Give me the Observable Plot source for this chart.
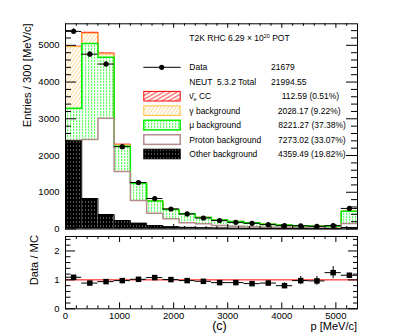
<!DOCTYPE html>
<html><head><meta charset="utf-8">
<script src="https://cdn.jsdelivr.net/npm/d3@7"></script>
<script src="https://cdn.jsdelivr.net/npm/@observablehq/plot@0.6"></script>
<style>
html,body{margin:0;padding:0;background:#fff;}
#chart{position:relative;width:411px;height:336px;overflow:hidden;}
#chart svg{display:block;}
</style></head><body><div id="chart"></div>
<script>
// ---- data (bins of 300 MeV/c) ----
const binLow = [0,300,600,900,1200,1500,1800,2100,2400,2700,3000,3300,3600,3900,4200,4500,4800,5100];
const binWidth = 300;
const otherBkg  = [2400, 830, 395, 231, 158, 95, 62, 45, 35, 28, 22, 18, 15, 12, 10, 8, 7, 40];
const protonBkg = [15, 1606, 2620, 1334, 618, 335, 216, 124, 107, 67, 54, 44, 36, 28, 23, 19, 18, 110];
const muBkg     = [870, 2613, 1660, 690, 460, 330, 250, 245, 170, 152, 126, 110, 78, 68, 55, 48, 47, 330];
const gammaBkg  = [1680, 280, 90, 35, 15, 10, 6, 5, 4, 3, 3, 2, 2, 2, 1, 1, 1, 5];
const nueCC     = [10, 25, 25, 18, 10, 7, 5, 3, 2, 2, 1, 1, 1, 1, 1, 0.5, 0.5, 1];
const dataVals  = [5380, 4760, 4490, 2240, 1265, 830, 545, 410, 300, 228, 182, 155, 118, 90, 88, 74, 92, 560];
const dataErr   = [73, 69, 67, 47, 36, 29, 23, 20, 17, 15, 13, 12, 11, 9.5, 9.4, 8.6, 9.6, 24];
const ratioVals = [1.09, 0.89, 0.94, 0.975, 1.02, 1.08, 1.01, 0.975, 0.95, 0.905, 0.905, 0.87, 0.89, 0.80, 0.975, 0.965, 1.25, 1.16];
const ratioErr  = [0.015, 0.013, 0.014, 0.02, 0.03, 0.04, 0.045, 0.05, 0.055, 0.06, 0.065, 0.07, 0.085, 0.09, 0.14, 0.155, 0.21, 0.07];
const yTicksTop = [0, 1000, 2000, 3000, 4000, 5000];
const yTicksRatio = [0, 1, 2];
const xTicks = [0, 1000, 2000, 3000, 4000, 5000];
const legendLabels = ["Data", "NEUT  5.3.2 Total", "nue", "γ background", "μ background", "Proton background", "Other background"];
const legendValues = ["21679", "21994.55", "112.59 (0.51%)", "2028.17 (9.22%)", "8221.27 (37.38%)", "7273.02 (33.07%)", "4359.49 (19.82%)"];

// ---- layout ----
const FONT = "Liberation Sans, Arial, Helvetica, sans-serif";
const W = 411, ML = 65, MR = 54, FW = W - ML - MR;
const H1 = 231, MT1 = 23.3, MB1 = 2.5, FH1 = H1 - MT1 - MB1;
const H2 = 105, MT2 = 5, MB2 = 27.7, FH2 = H2 - MT2 - MB2;

const layers = [
  {vals: otherBkg,  fill: "url(#pOther)", stroke: "#000000", sw: 1},
  {vals: protonBkg, fill: "white",        stroke: "#b48c8c", sw: 1.5},
  {vals: muBkg,     fill: "url(#pMu)",    stroke: "#00ee00", sw: 1.5},
  {vals: gammaBkg,  fill: "url(#pGamma)", stroke: "#ffbf3f", sw: 1},
  {vals: nueCC,     fill: "url(#pNue)",   stroke: "#ff0000", sw: 1}
];
const base = binLow.map(() => 0);
layers.forEach(L => {
  L.rects = binLow.map((x, i) => ({x1: x, x2: x + binWidth, y1: base[i], y2: base[i] + L.vals[i]}));
  L.rects.forEach((r, i) => base[i] = r.y2);
  L.step = L.rects.map(r => ({x: r.x1, y: r.y2})).concat([{x: L.rects[L.rects.length-1].x2, y: L.rects[L.rects.length-1].y2}]);
});
const dataRows = binLow.map((x, i) => ({x1: x, x2: x + binWidth, xc: x + binWidth/2, v: dataVals[i], e: dataErr[i]}));
const ratioRows = binLow.map((x, i) => ({x1: x, x2: x + binWidth, xc: x + binWidth/2, v: ratioVals[i], e: ratioErr[i]}));

const minorTopY = d3.range(200, 5586, 200).filter(v => v % 1000 !== 0);
const minorX = d3.range(200, 5400, 200).filter(v => v % 1000 !== 0);
const minorRatioY = d3.range(0.2, 2.5, 0.2).filter(v => Math.abs(v - Math.round(v)) > 1e-6);

function tickMarks(majorY, minorY, yMaj, yMin, yMajR, yMinR, xMaj, xMin, FH) {
  return [
    Plot.tickY(majorY, {y: d => d, insetRight: FW - yMaj, stroke: "black"}),
    Plot.tickY(majorY, {y: d => d, insetLeft: FW - yMajR, stroke: "black"}),
    Plot.tickY(minorY, {y: d => d, insetRight: FW - yMin, stroke: "black"}),
    Plot.tickY(minorY, {y: d => d, insetLeft: FW - yMinR, stroke: "black"}),
    Plot.tickX(xTicks, {x: d => d, insetBottom: FH - xMaj, stroke: "black"}),
    Plot.tickX(xTicks, {x: d => d, insetTop: FH - xMaj, stroke: "black"}),
    Plot.tickX(minorX, {x: d => d, insetBottom: FH - xMin, stroke: "black"}),
    Plot.tickX(minorX, {x: d => d, insetTop: FH - xMin, stroke: "black"})
  ];
}

const topPlot = Plot.plot({
  width: W, height: H1,
  marginLeft: ML, marginRight: MR, marginTop: MT1, marginBottom: MB1,
  style: {fontFamily: FONT, fontSize: "9.5px", background: "white", overflow: "visible"},
  x: {domain: [0, 5400], axis: null},
  y: {domain: [0, 5586]},
  marks: [
    ...layers.map(L => Plot.rect(L.rects, {x1: "x1", x2: "x2", y1: "y1", y2: "y2", fill: L.fill})),
    ...layers.slice().reverse().map(L => Plot.line(L.step, {x: "x", y: "y", curve: "step-after", stroke: L.stroke, strokeWidth: L.sw})),
    ...tickMarks(yTicksTop, minorTopY, 11, 6, 11, 6, 4.5, 2.5, FH1),
    Plot.frame({stroke: "black"}),
    Plot.ruleY(dataRows, {y: "v", x1: "x1", x2: "x2", stroke: "black", strokeWidth: 1}),
    Plot.ruleX(dataRows, {x: "xc", y1: d => d.v - d.e, y2: d => d.v + d.e, stroke: "black", strokeWidth: 1}),
    Plot.dot(dataRows, {x: "xc", y: "v", r: 2.6, fill: "black"}),
    Plot.axisY({ticks: yTicksTop, tickSize: 0, tickPadding: 6, tickFormat: d => String(d), label: null, fontSize: 9.5})
  ]
});

const bottomPlot = Plot.plot({
  width: W, height: H2,
  marginLeft: ML, marginRight: MR, marginTop: MT2, marginBottom: MB2,
  style: {fontFamily: FONT, fontSize: "9.5px", background: "white", overflow: "visible"},
  x: {domain: [0, 5400]},
  y: {domain: [0, 2.5]},
  marks: [
    Plot.ruleY([1], {stroke: "#ff0000", strokeWidth: 1}),
    ...tickMarks(yTicksRatio, minorRatioY, 10, 5.5, 9, 4, 6, 3, FH2),
    Plot.frame({stroke: "black"}),
    Plot.ruleY(ratioRows, {y: "v", x1: "x1", x2: "x2", stroke: "black", strokeWidth: 1}),
    Plot.ruleX(ratioRows, {x: "xc", y1: d => d.v - d.e, y2: d => d.v + d.e, stroke: "black", strokeWidth: 1}),
    Plot.dot(ratioRows, {x: "xc", y: "v", r: 3.1, symbol: "square", fill: "black"}),
    Plot.axisY({ticks: yTicksRatio, tickSize: 0, tickPadding: 6, tickFormat: d => String(d), label: null, fontSize: 9.5}),
    Plot.axisX({ticks: xTicks, tickSize: 0, tickPadding: 3, tickFormat: d => String(d), label: null, fontSize: 9.5})
  ]
});

const chart = document.getElementById("chart");
chart.appendChild(topPlot);
chart.appendChild(bottomPlot);

// ---- patterns ----
const st = d3.select(topPlot);
const defs = st.insert("defs", ":first-child");
function hatch(id, size, angle, color, sw) {
  const p = defs.append("pattern").attr("id", id).attr("patternUnits", "userSpaceOnUse")
    .attr("width", size).attr("height", size).attr("patternTransform", `rotate(${angle})`);
  p.append("rect").attr("width", size).attr("height", size).attr("fill", "white");
  p.append("line").attr("x1", 0).attr("x2", size).attr("y1", size/2).attr("y2", size/2)
    .attr("stroke", color).attr("stroke-width", sw);
}
hatch("pNue", 3.4, -30, "#ff2020", 0.9);
hatch("pGamma", 3, -55, "#ffcf80", 0.8);
{
  const p = defs.append("pattern").attr("id", "pMu").attr("patternUnits", "userSpaceOnUse").attr("width", 3).attr("height", 3);
  p.append("rect").attr("width", 3).attr("height", 3).attr("fill", "white");
  p.append("rect").attr("x", 1).attr("y", 0).attr("width", 1.2).attr("height", 2.2).attr("fill", "#66ff66");
}
{
  const p = defs.append("pattern").attr("id", "pOther").attr("patternUnits", "userSpaceOnUse").attr("width", 3).attr("height", 4);
  p.append("rect").attr("width", 3).attr("height", 4).attr("fill", "black");
  p.append("rect").attr("x", 1).attr("y", 1).attr("width", 0.8).attr("height", 2).attr("fill", "#6a6a6a");
}

// ---- titles ----
st.append("text").attr("transform", `translate(30.5,${MT1}) rotate(-90)`).attr("text-anchor", "end")
  .attr("font-family", FONT).attr("font-size", 11.2).text("Entries / 300 [MeV/c]");
const sb = d3.select(bottomPlot);
sb.append("text").attr("transform", `translate(38,4) rotate(-90)`).attr("text-anchor", "end")
  .attr("font-family", FONT).attr("font-size", 11.2).text("Data / MC");
sb.append("text").attr("x", 219.5).attr("y", 99).attr("text-anchor", "middle")
  .attr("font-family", FONT).attr("font-size", 12.5).text("(c)");
sb.append("text").attr("x", 357).attr("y", 98.5).attr("text-anchor", "end")
  .attr("font-family", FONT).attr("font-size", 11).text("p [MeV/c]");

// ---- legend ----
const LF = 8.5;
const tt = st.append("text").attr("x", 189.3).attr("y", 41).attr("text-anchor", "start")
  .attr("font-family", FONT).attr("font-size", LF);
tt.append("tspan").text("T2K RHC 6.29 × 10");
tt.append("tspan").attr("font-size", 5.5).attr("dy", -3.5).text("20");
tt.append("tspan").attr("dy", 3.5).text(" POT");

const rowY = i => 67.3 + i * 14.45;
const valX = [271, 271, 281.7, 277.7, 278.3, 278, 278];
const boxStyles = [null, null, layers[4], layers[3], layers[2], layers[1], layers[0]];
const lg = st.append("g").attr("font-family", FONT).attr("font-size", LF).attr("text-anchor", "start");
legendLabels.forEach((lab, i) => {
  const y = rowY(i);
  if (i === 0) {
    lg.append("line").attr("x1", 143.3).attr("x2", 180.7).attr("y1", y).attr("y2", y).attr("stroke", "black");
    lg.append("circle").attr("cx", 161.7).attr("cy", y).attr("r", 2.6).attr("fill", "black");
  } else if (boxStyles[i]) {
    const L = boxStyles[i];
    lg.append("rect").attr("x", 143.8).attr("y", y - 4.8).attr("width", 36.4).attr("height", 9.6)
      .attr("fill", L.fill).attr("stroke", L.stroke).attr("stroke-width", L.sw);
  }
  const t = lg.append("text").attr("x", 189.3).attr("y", y + 3).attr("text-anchor", "start").style("white-space", "pre");
  if (lab === "nue") {
    t.append("tspan").text("ν\u0304");
    t.append("tspan").attr("font-size", 5.5).attr("dy", 1.8).text("e");
    t.append("tspan").attr("dy", -1.8).text(" CC");
  } else {
    t.text(lab);
  }
  lg.append("text").attr("x", valX[i]).attr("y", y + 3).attr("text-anchor", "start").text(legendValues[i]);
});
</script>
</body></html>
